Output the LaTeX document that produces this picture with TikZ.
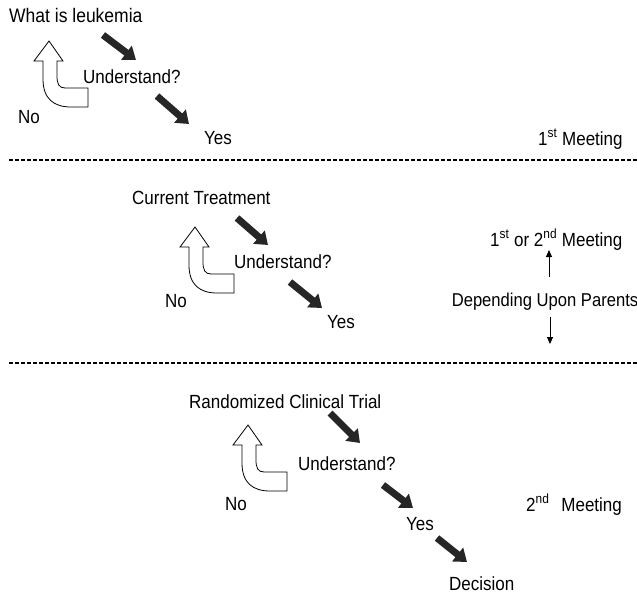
\documentclass[tikz,border=0pt]{standalone}
\usepackage{fontspec}
\usepackage{graphicx}
\setmainfont{Liberation Sans}
\usetikzlibrary{arrows.meta}
\newcommand{\vstr}[1]{\scalebox{1}[1.12]{#1}}
\tikzset{
  lbl/.style={inner sep=0pt, anchor=base west, font=\fontsize{17}{20}\selectfont},
  blk/.style={line width=7pt, draw=black!85, -{Triangle[length=12pt,width=17pt]}},
  thin/.style={line width=1pt, -{Triangle[length=7pt,width=6pt]}},
  sep/.style={line width=1.3pt, dash pattern=on 4pt off 2pt},
  uparrow/.pic={
    \draw[line width=0.8pt, fill=white, line join=miter]
      (0,0) -- (-15,20) -- (-6,20) -- (-6,38)
      .. controls (-6,58) and (5,66) .. (22,66) -- (39,66) -- (39,47) -- (16,47)
      .. controls (10,47) and (8,43) .. (8,35) -- (8,20) -- (14,20) -- cycle;
  }
}
\begin{document}
\begin{tikzpicture}[x=1pt,y=-1pt]
\useasboundingbox (0,0) rectangle (637,594);
% Section 1
\node[lbl, font=\fontsize{17.5}{20}\selectfont] (q1) at (9,22.7) {\vstr{What is leukemia}};
\node[lbl] (u1) at (83,83) {\vstr{Understand?}};
\node[lbl] (n1) at (18,123) {\vstr{No}};
\node[lbl] (y1) at (204,144) {\vstr{Yes}};
\node[lbl] (m1) at (538,145) {\vstr{1\textsuperscript{st} Meeting}};
\coordinate (a1s) at (103,35); \coordinate (a1e) at (136,60);
\coordinate (a2s) at (157,96); \coordinate (a2e) at (189,124);
\draw[blk] (a1s) -- (a1e);
\draw[blk] (a2s) -- (a2e);
\pic at (49,41) {uparrow};
\coordinate (d1s) at (9,160); \coordinate (d1e) at (637,160);
\draw[sep] (d1s) -- (d1e);
% Section 2
\node[lbl] (q2) at (132,204) {\vstr{Current Treatment}};
\node[lbl] (u2) at (234,268) {\vstr{Understand?}};
\node[lbl] (n2) at (165,307) {\vstr{No}};
\node[lbl] (y2) at (327,328) {\vstr{Yes}};
\node[lbl] (m2) at (490,246) {\vstr{1\textsuperscript{st} or 2\textsuperscript{nd} Meeting}};
\node[inner sep=0pt, anchor=base, font=\fontsize{16.6}{20}\selectfont] (dp) at (545,306) {\vstr{Depending Upon Parents}};
\coordinate (b1s) at (237,218); \coordinate (b1e) at (268,245);
\coordinate (b2s) at (290,282); \coordinate (b2e) at (322,308);
\draw[blk] (b1s) -- (b1e);
\draw[blk] (b2s) -- (b2e);
\pic at (195,227) {uparrow};
\coordinate (up1) at (549,277); \coordinate (up2) at (549,250);
\coordinate (dn1) at (550,317); \coordinate (dn2) at (550,344);
\draw[thin] (up1) -- (up2);
\draw[thin] (dn1) -- (dn2);
\coordinate (d2s) at (9,363); \coordinate (d2e) at (637,363);
\draw[sep] (d2s) -- (d2e);
% Section 3
\node[lbl] (q3) at (189,408) {\vstr{Randomized Clinical Trial}};
\node[lbl] (u3) at (298,470) {\vstr{Understand?}};
\node[lbl] (n3) at (225,510) {\vstr{No}};
\node[lbl] (y3) at (406,530) {\vstr{Yes}};
\node[lbl] (dc) at (449,590) {\vstr{Decision}};
\node[lbl] (m3) at (526,511) {\vstr{2\textsuperscript{nd}\hspace{12pt}Meeting}};
\coordinate (c1s) at (330,413); \coordinate (c1e) at (360,443);
\coordinate (c2s) at (383,485); \coordinate (c2e) at (413,508);
\coordinate (c3s) at (437,538); \coordinate (c3e) at (467,562);
\draw[blk] (c1s) -- (c1e);
\draw[blk] (c2s) -- (c2e);
\draw[blk] (c3s) -- (c3e);
\pic at (248,425) {uparrow};
\end{tikzpicture}
\end{document}
